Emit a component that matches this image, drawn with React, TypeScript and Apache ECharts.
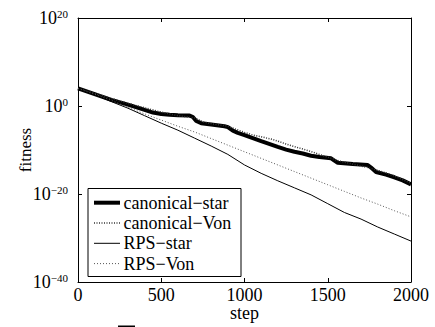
import React, { useEffect, useRef } from "react";
import * as echarts from "echarts";

// x values (step) and log10(fitness) values
const canonicalStarSteps = [0, 100, 200, 300, 400, 450, 500, 550, 600, 670, 690, 710, 740, 800, 880, 900, 930, 960, 1000, 1050, 1100, 1200, 1250, 1300, 1350, 1400, 1450, 1520, 1540, 1560, 1650, 1740, 1760, 1790, 1850, 1900, 1950, 2000];
const canonicalStarExp = [4.0, 2.7, 1.4, 0.3, -0.9, -1.5, -1.8, -2.0, -2.1, -2.15, -2.5, -3.4, -3.9, -4.2, -4.6, -4.8, -5.6, -6.1, -6.6, -7.3, -8.0, -9.3, -9.9, -10.4, -10.8, -11.3, -11.6, -11.9, -12.4, -12.9, -13.2, -13.4, -14.0, -15.0, -15.6, -16.2, -16.9, -17.8];

const canonicalVonSteps = [0, 100, 200, 300, 400, 500, 600, 700, 750, 800, 900, 1000, 1050, 1100, 1170, 1270, 1370, 1450, 1530, 1570, 1650, 1730, 1780, 1850, 1900, 1950, 2000];
const canonicalVonExp = [4.0, 2.9, 1.7, 0.6, -0.4, -1.4, -2.2, -2.7, -3.6, -4.0, -4.6, -6.0, -6.6, -7.0, -7.6, -8.9, -10.0, -11.0, -12.0, -12.5, -13.2, -13.9, -14.4, -15.2, -15.9, -16.7, -17.6];

const rpsStarSteps = [0, 100, 200, 300, 400, 500, 600, 700, 800, 900, 1000, 1100, 1200, 1300, 1400, 1500, 1600, 1700, 1800, 1900, 2000];
const rpsStarExp = [4.0, 2.6, 1.0, -0.5, -2.2, -3.9, -5.5, -7.3, -9.1, -11.0, -13.4, -15.3, -17.0, -18.6, -20.2, -22.2, -24.2, -25.7, -27.5, -29.1, -30.7];

const rpsVonSteps = [0, 100, 200, 300, 400, 500, 600, 700, 800, 900, 1000, 1100, 1200, 1300, 1400, 1500, 1600, 1700, 1800, 1900, 2000];
const rpsVonExp = [4.0, 2.7, 1.3, -0.3, -1.8, -3.2, -4.6, -5.9, -7.4, -8.9, -10.4, -11.9, -13.4, -14.9, -16.4, -17.9, -19.4, -20.9, -22.3, -23.8, -25.2];

const seriesNames = ["canonical\u2212star", "canonical\u2212Von", "RPS\u2212star", "RPS\u2212Von"];
const xTicks = { min: 0, max: 2000, interval: 500 };
const yTicks = { min: -40, max: 20, interval: 20 };
const xName = "step";
const yName = "fitness";

const FONT = "'Liberation Serif', 'Times New Roman', serif";

const lineStyles = [
  { color: "#000", width: 4 },
  { color: "#333", width: 1.5, type: [1, 1.5] as number[] },
  { color: "#000", width: 1 },
  { color: "#555", width: 1, type: [1, 2] as number[] },
];

const pairs = (xs: number[], ys: number[]) => xs.map((x, i) => [x, ys[i]]);

export default function App() {
  const ref = useRef<HTMLDivElement>(null);
  useEffect(() => {
    if (!ref.current) return;
    const chart = echarts.init(ref.current, null, { renderer: "svg" });
    const supText = (v: number) => (v < 0 ? "\u2212" + Math.abs(v) : String(v));
    const axisLine = { show: true, onZero: false, lineStyle: { color: "#000", width: 1 } };
    const tick = { show: true, inside: true, length: 4, lineStyle: { color: "#000", width: 1 } };

    // legend box drawn as graphic
    const lgLeft = 88, lgTop = 188.5, lgW = 153, lgH = 88, rowH = 20.3, firstRow = 14.2;
    const legendChildren: any[] = [
      {
        type: "rect",
        shape: { x: 0, y: 0, width: lgW, height: lgH },
        style: { fill: "#fff", stroke: "#000", lineWidth: 1 },
      },
    ];
    seriesNames.forEach((name, i) => {
      const y = firstRow + i * rowH;
      const ls = lineStyles[i];
      legendChildren.push({
        type: "line",
        shape: { x1: 6, y1: y, x2: 32, y2: y },
        style: { stroke: ls.color, lineWidth: ls.width, lineDash: ls.type || null },
      });
      legendChildren.push({
        type: "text",
        x: 35.5,
        y: y,
        style: { text: name, fontFamily: FONT, fontSize: 18, fill: "#000", verticalAlign: "middle", align: "left" },
      });
    });

    chart.setOption({
      animation: false,
      backgroundColor: "#fff",
      grid: { left: 78, right: 24, top: 18, bottom: 45, show: false, outerBoundsMode: "none" },
      xAxis: [
        {
          type: "value",
          position: "bottom",
          ...xTicks,
          axisLine,
          axisTick: tick,
          splitLine: { show: false },
          axisLabel: { fontFamily: FONT, fontSize: 18, lineHeight: 14, color: "#000", margin: 6, formatter: (v: number) => String(v) },
        },
        {
          type: "value",
          position: "top",
          ...xTicks,
          axisLine,
          axisTick: tick,
          splitLine: { show: false },
          axisLabel: { show: false },
        },
      ],
      yAxis: [
        {
          type: "value",
          position: "left",
          ...yTicks,
          axisLine,
          axisTick: tick,
          splitLine: { show: false },
          axisLabel: {
            margin: 10,
            formatter: (v: number) => `{b|10}{s|${supText(v)}}`,
            rich: {
              b: { fontFamily: FONT, fontSize: 18, lineHeight: 20, color: "#000" },
              s: { fontFamily: FONT, fontSize: 11, lineHeight: 10, verticalAlign: "top", color: "#000" },
            },
          },
          name: yName,
          nameLocation: "middle",
          nameGap: 44,
          nameMoveOverlap: false,
          nameTextStyle: { fontFamily: FONT, fontSize: 17, color: "#000" },
        },
        {
          type: "value",
          position: "right",
          ...yTicks,
          axisLine,
          axisTick: tick,
          splitLine: { show: false },
          axisLabel: { show: false },
        },
      ],
      series: [
        { name: seriesNames[0], type: "line", symbol: "none", data: pairs(canonicalStarSteps, canonicalStarExp), lineStyle: lineStyles[0] },
        { name: seriesNames[1], type: "line", symbol: "none", data: pairs(canonicalVonSteps, canonicalVonExp), lineStyle: lineStyles[1] },
        { name: seriesNames[2], type: "line", symbol: "none", data: pairs(rpsStarSteps, rpsStarExp), lineStyle: lineStyles[2] },
        { name: seriesNames[3], type: "line", symbol: "none", data: pairs(rpsVonSteps, rpsVonExp), lineStyle: lineStyles[3] },
      ],
      graphic: [
        { type: "group", x: lgLeft, y: lgTop, z: 100, children: legendChildren },
        {
          type: "text",
          x: 244.5,
          y: 313,
          style: { text: xName, fontFamily: FONT, fontSize: 18, fill: "#000", align: "center", verticalAlign: "middle" },
        },
        { type: "rect", x: 118, y: 325.5, shape: { width: 17, height: 2 }, style: { fill: "#000" } },
      ],
    });
    return () => chart.dispose();
  }, []);
  return (
    <div
      ref={ref}
      style={{ position: "absolute", left: 0, top: 0, width: 435, height: 327, background: "#fff" }}
    />
  );
}
